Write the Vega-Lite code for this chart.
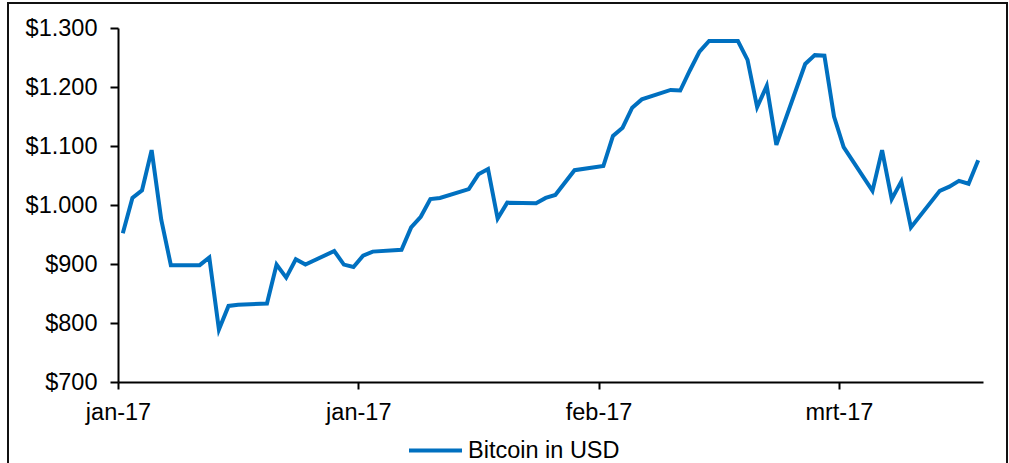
{
  "$schema": "https://vega.github.io/schema/vega-lite/v6.json",
  "autosize": "none",
  "width": 999,
  "height": 470,
  "padding": {"left": 8, "top": 3, "right": 2, "bottom": 0},
  "background": "white",
  "config": {
    "view": {"stroke": "#111111", "strokeWidth": 2, "fill": "white"},
    "font": "Liberation Sans"
  },
  "data": {
    "values": [
      {"date": "2017-01-01", "usd": 952},
      {"date": "2017-01-02", "usd": 1012},
      {"date": "2017-01-03", "usd": 1025},
      {"date": "2017-01-04", "usd": 1093},
      {"date": "2017-01-05", "usd": 975},
      {"date": "2017-01-06", "usd": 898},
      {"date": "2017-01-09", "usd": 898},
      {"date": "2017-01-10", "usd": 911},
      {"date": "2017-01-11", "usd": 789},
      {"date": "2017-01-12", "usd": 829},
      {"date": "2017-01-13", "usd": 831},
      {"date": "2017-01-16", "usd": 833},
      {"date": "2017-01-17", "usd": 899},
      {"date": "2017-01-18", "usd": 877},
      {"date": "2017-01-19", "usd": 908},
      {"date": "2017-01-20", "usd": 899},
      {"date": "2017-01-23", "usd": 922},
      {"date": "2017-01-24", "usd": 899},
      {"date": "2017-01-25", "usd": 895},
      {"date": "2017-01-26", "usd": 914},
      {"date": "2017-01-27", "usd": 921},
      {"date": "2017-01-30", "usd": 924},
      {"date": "2017-01-31", "usd": 962},
      {"date": "2017-02-01", "usd": 980},
      {"date": "2017-02-02", "usd": 1010},
      {"date": "2017-02-03", "usd": 1012},
      {"date": "2017-02-06", "usd": 1027},
      {"date": "2017-02-07", "usd": 1052},
      {"date": "2017-02-08", "usd": 1061},
      {"date": "2017-02-09", "usd": 977},
      {"date": "2017-02-10", "usd": 1004},
      {"date": "2017-02-13", "usd": 1003},
      {"date": "2017-02-14", "usd": 1012},
      {"date": "2017-02-15", "usd": 1017},
      {"date": "2017-02-17", "usd": 1059},
      {"date": "2017-02-20", "usd": 1066},
      {"date": "2017-02-21", "usd": 1117},
      {"date": "2017-02-22", "usd": 1131},
      {"date": "2017-02-23", "usd": 1165},
      {"date": "2017-02-24", "usd": 1179},
      {"date": "2017-02-27", "usd": 1195},
      {"date": "2017-02-28", "usd": 1194},
      {"date": "2017-03-01", "usd": 1228},
      {"date": "2017-03-02", "usd": 1260},
      {"date": "2017-03-03", "usd": 1278},
      {"date": "2017-03-06", "usd": 1278},
      {"date": "2017-03-07", "usd": 1246},
      {"date": "2017-03-08", "usd": 1166},
      {"date": "2017-03-09", "usd": 1202},
      {"date": "2017-03-10", "usd": 1102},
      {"date": "2017-03-13", "usd": 1239},
      {"date": "2017-03-14", "usd": 1254},
      {"date": "2017-03-15", "usd": 1253},
      {"date": "2017-03-16", "usd": 1150},
      {"date": "2017-03-17", "usd": 1098},
      {"date": "2017-03-20", "usd": 1024},
      {"date": "2017-03-21", "usd": 1093},
      {"date": "2017-03-22", "usd": 1010},
      {"date": "2017-03-23", "usd": 1040},
      {"date": "2017-03-24", "usd": 962},
      {"date": "2017-03-27", "usd": 1024},
      {"date": "2017-03-28", "usd": 1031},
      {"date": "2017-03-29", "usd": 1041},
      {"date": "2017-03-30", "usd": 1036},
      {"date": "2017-03-31", "usd": 1076}
    ]
  },
  "mark": {"type": "line", "strokeWidth": 4, "strokeJoin": "miter", "strokeCap": "butt"},
  "encoding": {
    "x": {
      "field": "date",
      "type": "temporal",
      "scale": {
        "type": "utc",
        "domain": [
          {"year": 2016, "month": 12, "date": 31, "hours": 12, "utc": true},
          {"year": 2017, "month": 3, "date": 31, "hours": 12, "utc": true}
        ],
        "range": [110, 975]
      },
      "axis": {
        "title": null,
        "grid": false,
        "offset": -91,
        "values": [
          {"year": 2016, "month": 12, "date": 31, "hours": 12, "utc": true},
          {"year": 2017, "month": 1, "date": 25, "hours": 12, "utc": true},
          {"year": 2017, "month": 2, "date": 19, "hours": 12, "utc": true},
          {"year": 2017, "month": 3, "date": 16, "hours": 12, "utc": true}
        ],
        "labelExpr": "['jan','feb','mrt','apr','mei','jun','jul','aug','sep','okt','nov','dec'][utcmonth(datum.value + 43200000)] + '-' + utcFormat(datum.value + 43200000, '%y')",
        "domainColor": "black",
        "domainWidth": 2,
        "tickColor": "black",
        "tickWidth": 2,
        "tickSize": 7,
        "labelPadding": 11,
        "labelFont": "Liberation Sans",
        "labelFontSize": 23.5,
        "labelColor": "black",
        "labelFlush": false,
        "labelOverlap": false
      }
    },
    "y": {
      "field": "usd",
      "type": "quantitative",
      "scale": {"domain": [700, 1300], "range": [379, 25], "zero": false, "nice": false},
      "axis": {
        "title": null,
        "grid": false,
        "offset": -110,
        "values": [700, 800, 900, 1000, 1100, 1200, 1300],
        "labelExpr": "'$' + replace(format(datum.value, ',.0f'), ',', '.')",
        "domainColor": "black",
        "domainWidth": 2,
        "tickColor": "black",
        "tickWidth": 2,
        "tickSize": 8,
        "labelPadding": 13,
        "labelFont": "Liberation Sans",
        "labelFontSize": 23.5,
        "labelColor": "black",
        "labelFlush": false,
        "labelOverlap": false
      }
    },
    "color": {
      "datum": "Bitcoin in USD",
      "type": "nominal",
      "scale": {"range": ["#0070C0"]},
      "legend": {
        "title": null,
        "orient": "none",
        "legendX": 399,
        "legendY": 419,
        "padding": 0,
        "symbolType": "stroke",
        "symbolSize": 2809,
        "symbolStrokeWidth": 4,
        "labelOffset": 4,
        "labelFont": "Liberation Sans",
        "labelFontSize": 23.5,
        "labelColor": "black"
      }
    }
  }
}
